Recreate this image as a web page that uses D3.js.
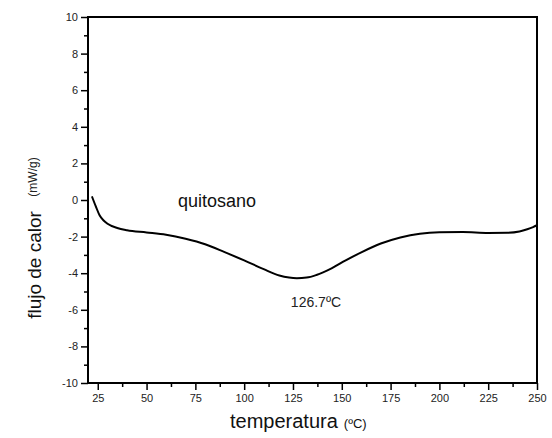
<!DOCTYPE html>
<html>
<head>
<meta charset="utf-8">
<script src="https://cdn.jsdelivr.net/npm/d3@7"></script>
<style>
  body { margin: 0; background: #fff; }
  text { font-family: "Liberation Sans", Arial, sans-serif; }
</style>
</head>
<body>
<div id="chart"></div>
<script>
// DSC curve, chitosan
const temps = [22, 24, 26, 28, 30, 35, 40, 50, 60, 70, 80, 90, 100, 110, 118, 123, 127, 132, 137, 145, 152, 160, 170, 180, 190, 200, 212, 225, 235, 241, 245, 248, 250];
const flux = [0.2, -0.35, -0.85, -1.12, -1.3, -1.53, -1.65, -1.77, -1.9, -2.12, -2.42, -2.85, -3.3, -3.78, -4.13, -4.24, -4.27, -4.24, -4.1, -3.72, -3.3, -2.86, -2.38, -2.05, -1.84, -1.76, -1.75, -1.8, -1.79, -1.72, -1.6, -1.48, -1.38];

const xTicks = [25, 50, 75, 100, 125, 150, 175, 200, 225, 250];
const xMinor = [37.5, 62.5, 87.5, 112.5, 137.5, 162.5, 187.5, 212.5, 237.5];
const yTicks = [-10, -8, -6, -4, -2, 0, 2, 4, 6, 8, 10];
const yMinor = [-9, -7, -5, -3, -1, 1, 3, 5, 7, 9];

const w = 552, h = 438;
const margin = { top: 17, right: 15, bottom: 55, left: 88 };

const svg = d3.select("#chart")
  .append("svg")
  .attr("width", w)
  .attr("height", h);

const x = d3.scaleLinear().domain([20, 250]).range([margin.left, w - margin.right]);
const y = d3.scaleLinear().domain([-10, 10]).range([h - margin.bottom, margin.top]);

// frame
svg.append("rect")
  .attr("x", margin.left)
  .attr("y", margin.top)
  .attr("width", x(250) - x(20))
  .attr("height", y(-10) - y(10))
  .attr("fill", "none")
  .attr("stroke", "#000")
  .attr("stroke-width", 2);

const plain = (d) => String(d); // hyphen minus like the original

svg.append("g")
  .attr("transform", `translate(0,${y(-10)})`)
  .call(d3.axisBottom(x).tickValues(xTicks).tickSize(7).tickPadding(4).tickFormat(plain));

svg.append("g")
  .attr("transform", `translate(0,${y(-10)})`)
  .call(d3.axisBottom(x).tickValues(xMinor).tickSize(4).tickFormat(""));

svg.append("g")
  .attr("transform", `translate(${x(20)},0)`)
  .call(d3.axisLeft(y).tickValues(yTicks).tickSize(7).tickPadding(3).tickFormat(plain));

svg.append("g")
  .attr("transform", `translate(${x(20)},0)`)
  .call(d3.axisLeft(y).tickValues(yMinor).tickSize(4).tickFormat(""));

svg.selectAll(".domain").remove();
svg.selectAll(".tick line").attr("stroke", "#000").attr("stroke-width", 1.5);
svg.selectAll(".tick text")
  .style("font-size", "11px")
  .attr("fill", "#222");

// curve
const points = temps.map((t, i) => [t, flux[i]]);
const line = d3.line()
  .x((d) => x(d[0]))
  .y((d) => y(d[1]))
  .curve(d3.curveMonotoneX);

svg.append("path")
  .datum(points)
  .attr("d", line)
  .attr("fill", "none")
  .attr("stroke", "#000")
  .attr("stroke-width", 2);

// annotations
svg.append("text")
  .attr("x", 178)
  .attr("y", 207)
  .style("font-size", "18px")
  .attr("fill", "#111")
  .text("quitosano");

svg.append("text")
  .attr("x", 316)
  .attr("y", 307)
  .attr("text-anchor", "middle")
  .style("font-size", "14px")
  .attr("fill", "#222")
  .text("126.7ºC");

// axis titles
const xTitle = svg.append("text")
  .attr("x", 230)
  .attr("y", 428)
  .attr("fill", "#111");
xTitle.append("tspan").style("font-size", "20px").text("temperatura");
xTitle.append("tspan").attr("dx", 6).style("font-size", "13px").text("(ºC)");

svg.append("text")
  .attr("transform", "translate(41,265) rotate(-90)")
  .attr("text-anchor", "middle")
  .style("font-size", "19px")
  .attr("fill", "#111")
  .text("flujo de calor");

svg.append("text")
  .attr("transform", "translate(37,177) rotate(-90)")
  .attr("text-anchor", "middle")
  .style("font-size", "12px")
  .attr("fill", "#222")
  .text("(mW/g)");
</script>
</body>
</html>
